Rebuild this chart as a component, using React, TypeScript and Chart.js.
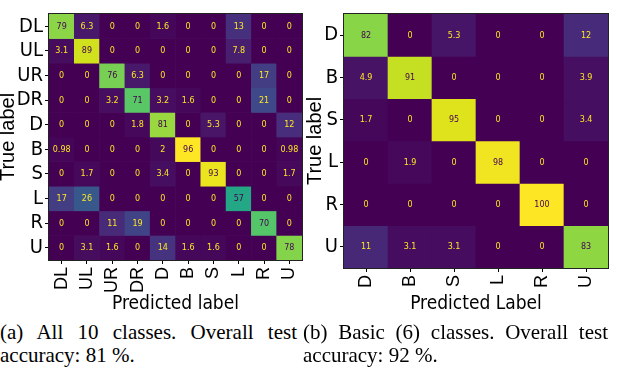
import React, { useEffect, useRef } from "react";
import { Chart, registerables } from "chart.js";

Chart.register(...registerables);

// ---------- data ----------
const allClasses = ["DL", "UL", "UR", "DR", "D", "B", "S", "L", "R", "U"];
const allMatrix = [
  [79, 6.3, 0, 0, 1.6, 0, 0, 13, 0, 0],
  [3.1, 89, 0, 0, 0, 0, 0, 7.8, 0, 0],
  [0, 0, 76, 6.3, 0, 0, 0, 0, 17, 0],
  [0, 0, 3.2, 71, 3.2, 1.6, 0, 0, 21, 0],
  [0, 0, 0, 1.8, 81, 0, 5.3, 0, 0, 12],
  [0.98, 0, 0, 0, 2, 96, 0, 0, 0, 0.98],
  [0, 1.7, 0, 0, 3.4, 0, 93, 0, 0, 1.7],
  [17, 26, 0, 0, 0, 0, 0, 57, 0, 0],
  [0, 0, 11, 19, 0, 0, 0, 0, 70, 0],
  [0, 3.1, 1.6, 0, 14, 1.6, 1.6, 0, 0, 78],
];

const basicClasses = ["D", "B", "S", "L", "R", "U"];
const basicMatrix = [
  [82, 0, 5.3, 0, 0, 12],
  [4.9, 91, 0, 0, 0, 3.9],
  [1.7, 0, 95, 0, 0, 3.4],
  [0, 1.9, 0, 98, 0, 0],
  [0, 0, 0, 0, 100, 0],
  [11, 3.1, 3.1, 0, 0, 83],
];

const captionA = "(a) All 10 classes. Overall test accuracy: 81 %.";
const captionB = "(b) Basic (6) classes. Overall test accuracy: 92 %.";

// ---------- colour map ----------
const VIRIDIS = [
  "#440154", "#48186a", "#472d7b", "#424086", "#3b528b", "#33638d",
  "#2c728e", "#26828e", "#21918c", "#1fa088", "#28ae80", "#3fbc73",
  "#5ec962", "#84d44b", "#addc30", "#d8e219", "#fde725",
];
function hexToRgb(h: string) {
  return [parseInt(h.slice(1, 3), 16), parseInt(h.slice(3, 5), 16), parseInt(h.slice(5, 7), 16)];
}
function viridis(t: number) {
  const c = Math.max(0, Math.min(1, t));
  const pos = c * (VIRIDIS.length - 1);
  const i = Math.min(Math.floor(pos), VIRIDIS.length - 2);
  const f = pos - i;
  const a = hexToRgb(VIRIDIS[i]);
  const b = hexToRgb(VIRIDIS[i + 1]);
  const m = a.map((v, k) => Math.round(v + (b[k] - v) * f));
  return `rgb(${m[0]},${m[1]},${m[2]})`;
}

const NARROW = "'Liberation Sans Narrow', 'DejaVu Sans Condensed', 'Liberation Sans', sans-serif";
const SANS = "'Liberation Sans', Arial, sans-serif";

type Props = {
  classes: string[];
  matrix: number[][];
  xTitle: string;
  left: number;
  width: number;
  height: number;
  padTop: number;
  padRight: number;
  yAxisWidth: number;
  xAxisHeight: number;
  yTitlePad: number;
  yTitleLH: number;
};

function ConfusionMatrix(p: Props) {
  const ref = useRef<HTMLCanvasElement>(null);
  useEffect(() => {
    const { classes, matrix } = p;
    const flat = matrix.flat();
    const vmax = Math.max(...flat);
    const vmin = Math.min(...flat);
    const thresh = (vmax + vmin) / 2;
    const datasets = classes.map((row, i) => ({
      label: row,
      data: classes.map(() => 1),
      backgroundColor: matrix[i].map((v) => viridis((v - vmin) / (vmax - vmin))),
      borderWidth: 0,
      barPercentage: 1,
      categoryPercentage: 1,
      stack: "cells",
    }));

    const cellText = {
      id: "cellText",
      afterDatasetsDraw(chart: any) {
        const ctx = chart.ctx;
        ctx.save();
        ctx.font = "8px 'DejaVu Sans', sans-serif";
        ctx.textAlign = "center";
        ctx.textBaseline = "middle";
        chart.data.datasets.forEach((_: any, i: number) => {
          const meta = chart.getDatasetMeta(i);
          meta.data.forEach((el: any, j: number) => {
            const v = matrix[i][j];
            ctx.fillStyle = v > thresh ? viridis(0) : viridis(1);
            ctx.fillText(String(v), el.x, (el.y + el.base) / 2 + 0.5);
          });
        });
        ctx.restore();
      },
    };
    const frame = {
      id: "frame",
      afterDraw(chart: any) {
        const { left, top, right, bottom } = chart.chartArea;
        const ctx = chart.ctx;
        ctx.save();
        ctx.strokeStyle = "#222";
        ctx.lineWidth = 1;
        ctx.strokeRect(Math.round(left) - 0.5, Math.round(top) - 0.5, Math.round(right - left) + 1, Math.round(bottom - top) + 1);
        ctx.restore();
      },
    };

    const chart = new Chart(ref.current as HTMLCanvasElement, {
      type: "bar",
      data: { labels: classes, datasets: datasets as any },
      options: {
        animation: false,
        responsive: false,
        devicePixelRatio: 1,
        events: [],
        layout: { padding: { top: p.padTop, right: p.padRight, left: 0, bottom: 0 } },
        plugins: { legend: { display: false }, tooltip: { enabled: false } },
        scales: {
          x: {
            type: "category",
            stacked: true,
            grid: { offset: false, drawOnChartArea: false, tickLength: 4, color: "#000" },
            border: { display: false },
            ticks: {
              minRotation: 90,
              maxRotation: 90,
              autoSkip: false,
              padding: 3,
              color: "#000",
              font: { family: SANS, size: 18 },
            },
            title: {
              display: true,
              text: p.xTitle,
              color: "#000",
              padding: 0,
              font: { family: NARROW, size: 19 },
            },
            afterFit: (s: any) => {
              s.height = p.xAxisHeight;
            },
          },
          y: {
            type: "linear",
            stacked: true,
            reverse: true,
            min: 0,
            max: classes.length,
            grid: { drawOnChartArea: false, tickLength: 4, color: "#000" },
            border: { display: false },
            afterBuildTicks: (s: any) => {
              s.ticks = classes.map((_, i) => ({ value: i + 0.5 }));
            },
            ticks: {
              padding: 2,
              color: "#000",
              font: { family: NARROW, size: 20 },
              callback: (v: any) => classes[Math.floor(Number(v))],
            },
            title: {
              display: true,
              text: "True label",
              color: "#000",
              padding: { top: p.yTitlePad, bottom: 0 },
              font: { family: SANS, size: 20, lineHeight: p.yTitleLH },
            },
            afterFit: (s: any) => {
              s.width = p.yAxisWidth;
            },
          },
        },
      } as any,
      plugins: [cellText, frame],
    });
    return () => chart.destroy();
  }, []);
  return (
    <canvas
      ref={ref}
      width={p.width}
      height={p.height}
      style={{ position: "absolute", left: p.left, top: 0, width: p.width, height: p.height }}
    />
  );
}

const captionStyle: React.CSSProperties = {
  position: "absolute",
  top: 321,
  fontFamily: "'Liberation Serif', 'Times New Roman', serif",
  fontSize: 21,
  lineHeight: "23px",
  textAlign: "justify",
  color: "#000",
};

export default function App() {
  return (
    <div
      style={{
        position: "fixed",
        left: 0,
        top: 0,
        width: 640,
        height: 369,
        background: "#fff",
        overflow: "hidden",
      }}
    >
      <ConfusionMatrix
        classes={allClasses}
        matrix={allMatrix}
        xTitle="Predicted label"
        left={0}
        width={318}
        height={315}
        padTop={10}
        padRight={16}
        yAxisWidth={49}
        xAxisHeight={55}
        yTitlePad={0}
        yTitleLH={0.8}
      />
      <ConfusionMatrix
        classes={basicClasses}
        matrix={basicMatrix}
        xTitle="Predicted Label"
        left={300}
        width={330}
        height={315}
        padTop={5}
        padRight={22}
        yAxisWidth={44}
        xAxisHeight={47}
        yTitlePad={3}
        yTitleLH={1.2}
      />
      <div style={{ ...captionStyle, left: 0, width: 297 }}>{captionA}</div>
      <div style={{ ...captionStyle, left: 303, width: 305 }}>{captionB}</div>
    </div>
  );
}
